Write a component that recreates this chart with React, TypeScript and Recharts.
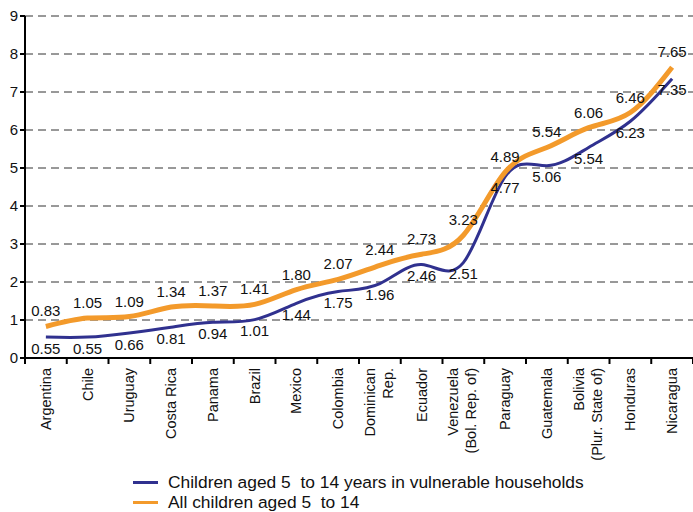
import { LineChart, Line, XAxis, YAxis, CartesianGrid, LabelList, Legend } from "recharts"

// Countries along the category axis (multi-line names split with "\n")
const countries = [
  "Argentina",
  "Chile",
  "Uruguay",
  "Costa Rica",
  "Panama",
  "Brazil",
  "Mexico",
  "Colombia",
  "Dominican\nRep.",
  "Ecuador",
  "Venezuela\n(Bol. Rep. of)",
  "Paraguay",
  "Guatemala",
  "Bolivia\n(Plur. State of)",
  "Honduras",
  "Nicaragua",
]

// Children aged 5 to 14 years in vulnerable households
const vulnerable = [0.55, 0.55, 0.66, 0.81, 0.94, 1.01, 1.44, 1.75, 1.96, 2.46, 2.51, 4.77, 5.06, 5.54, 6.23, 7.35]

// All children aged 5 to 14
const allChildren = [0.83, 1.05, 1.09, 1.34, 1.37, 1.41, 1.8, 2.07, 2.44, 2.73, 3.23, 4.89, 5.54, 6.06, 6.46, 7.65]

const yTicks = [0, 1, 2, 3, 4, 5, 6, 7, 8, 9]

const BLUE = "#30318f"
const ORANGE = "#f39a2b"
const FONT = "'Liberation Sans', Arial, sans-serif"

const WIDTH = 693
const HEIGHT = 512
const MARGIN = { top: 16, right: 0, bottom: 0, left: 0 }
const Y_AXIS_WIDTH = 25
const STEP = (WIDTH - MARGIN.left - MARGIN.right - Y_AXIS_WIDTH) / countries.length

const data = countries.map((name, i) => ({
  name,
  vulnerable: vulnerable[i],
  all: allChildren[i],
}))

// Rotated country names, tick marks sit between categories
function CountryTick(props: any) {
  const { x, y, payload, index } = props
  const lines: string[] = String(payload.value).split("\n")
  const half = STEP / 2
  const start = lines.length === 1 ? 5 : -5
  return (
    <g transform={`translate(${x},${y})`}>
      <line x1={-half} x2={-half} y1={0} y2={6} stroke="#000" strokeWidth={2} />
      {index === countries.length - 1 && (
        <line x1={half} x2={half} y1={0} y2={6} stroke="#000" strokeWidth={2} />
      )}
      <text transform="rotate(-90)" textAnchor="end" fontSize={14.5} fontFamily={FONT} fill="#111">
        {lines.map((line, i) => (
          <tspan key={i} x={-10} y={start + i * 18}>
            {line}
          </tspan>
        ))}
      </text>
    </g>
  )
}

function LegendBox() {
  const rows = [
    { color: BLUE, label: "Children aged 5  to 14 years in vulnerable households" },
    { color: ORANGE, label: "All children aged 5  to 14" },
  ]
  return (
    <div style={{ fontFamily: FONT, fontSize: 17.4, color: "#111", lineHeight: "20px" }}>
      {rows.map((r) => (
        <div key={r.label} style={{ display: "flex", alignItems: "center", whiteSpace: "pre" }}>
          <span style={{ display: "inline-block", width: 25, height: 3, background: r.color, marginRight: 10 }} />
          {r.label}
        </div>
      ))}
    </div>
  )
}

const fmt = (v: any) => Number(v).toFixed(2)

export default function App() {
  return (
    <div style={{ position: "absolute", left: 0, top: 0, background: "#fff" }}>
      <LineChart width={WIDTH} height={HEIGHT} data={data} margin={MARGIN}>
        <CartesianGrid vertical={false} stroke="#333" strokeDasharray="8 5" />
        <XAxis
          dataKey="name"
          interval={0}
          height={114}
          padding={{ left: STEP / 2, right: STEP / 2 }}
          axisLine={{ stroke: "#000", strokeWidth: 2 }}
          tickLine={false}
          tickSize={0}
          tickMargin={0}
          tick={<CountryTick />}
        />
        <YAxis
          width={Y_AXIS_WIDTH}
          domain={[0, 9]}
          ticks={yTicks}
          interval={0}
          axisLine={{ stroke: "#000", strokeWidth: 2 }}
          tickLine={{ stroke: "#000", strokeWidth: 2 }}
          tickSize={5}
          tickMargin={2}
          tick={{ fontSize: 15, fontFamily: FONT, fill: "#111" }}
        />
        <Legend
          verticalAlign="bottom"
          height={40}
          content={<LegendBox />}
          wrapperStyle={{ left: 133, bottom: 0, width: "auto" }}
        />
        <Line
          type="natural"
          dataKey="vulnerable"
          stroke={BLUE}
          strokeWidth={3}
          dot={false}
          isAnimationActive={false}
        >
          <LabelList dataKey="vulnerable" position="bottom" offset={6} fontSize={15} fontFamily={FONT} fill="#111" formatter={fmt} />
        </Line>
        <Line
          type="natural"
          dataKey="all"
          stroke={ORANGE}
          strokeWidth={5}
          dot={false}
          isAnimationActive={false}
        >
          <LabelList dataKey="all" position="top" offset={10} fontSize={15} fontFamily={FONT} fill="#111" formatter={fmt} />
        </Line>
      </LineChart>
    </div>
  )
}
